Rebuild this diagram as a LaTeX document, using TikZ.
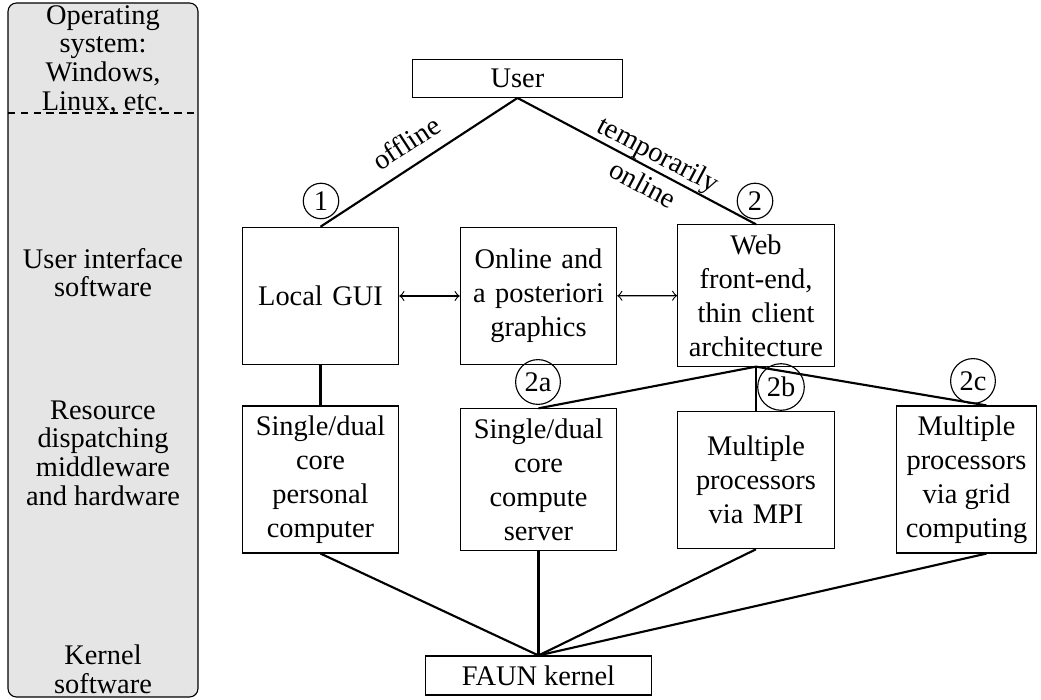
\documentclass[tikz,border=0pt]{standalone}
\usepackage{fontspec}
\setmainfont{Liberation Serif}
\begin{document}
\begin{tikzpicture}[x=0.352pt,y=-0.352pt,
  box/.style={draw, line width=0.4pt, align=center, text width=1.7cm,
    minimum height=1.7cm, inner sep=3.33pt},
  freebox/.style={draw, line width=0.4pt, align=center, inner sep=3.33pt},
  num/.style={draw, circle, line width=0.4pt, inner sep=1.5pt},
  layer/.style={align=center, font=\fontsize{10}{10.1}\selectfont},
  conn/.style={line width=0.75pt},
  thinconn/.style={line width=0.45pt},
  dbl/.style={line width=0.4pt, <->}]
\useasboundingbox (0,0) rectangle (1041,700);

% layer column
\draw[line width=0.4pt, rounded corners=3pt, fill=black!10] (8,3) rectangle (198,697);
\draw[line width=0.5pt, dash pattern=on 2.6pt off 1.9pt] (8,113) -- (198,113);
\node[layer] (los)  at (103,60) {Operating\\system:\\Windows,\\Linux, etc.};
\node[layer] (lui)  at (103,272.5) {User interface\\software};
\node[layer] (lres) at (103,453) {Resource\\dispatching\\middleware\\and hardware};
\node[layer] (lker) at (103,669) {Kernel\\software};

% nodes
\node[freebox, minimum width=2.6cm] (user) at (517.5,78.5) {User};
\node[box] (gui)   at (320.5,296) {Local GUI};
\node[box] (graph) at (538.5,296) {Online and\\a posteriori\\graphics};
\node[box] (web)   at (756,295.5) {Web\\front-end,\\thin client\\architecture};
\node[box] (pc)    at (320.5,479.5) {Single/dual\\core\\personal\\computer};
\node[box] (srv)   at (538.5,479.5) {Single/dual\\core\\compute\\server};
\node[box] (mpi)   at (756,480) {Multiple\\processors\\via MPI};
\node[freebox] (grid) at (966.5,479.5) {Multiple\\processors\\via grid\\computing};
\node[freebox, minimum width=2.8cm] (faun) at (538.5,675.5) {FAUN kernel};

% connectors
\draw[conn] (gui.north) -- node[pos=0.5, sloped, above=1pt] {offline} (user.south);
\draw[conn] (user.south) -- node[pos=0.56, sloped, align=center] {temporarily\\online} (web.north);
\draw[dbl] (gui) -- (graph);
\draw[dbl] (graph) -- (web);
\draw[conn] (gui) -- (pc);
\draw[conn] (web.south) -- (srv.north);
\draw[thinconn] (web.south) -- (mpi.north);
\draw[conn] (web.south) -- ([xshift=7]grid.north);
\draw[conn] (pc.south) -- (faun.north);
\draw[conn] (srv.south) -- (faun.north);
\draw[conn] (mpi.south) -- (faun.north);
\draw[conn] ([xshift=7]grid.south) -- (faun.north);

% branch numbers
\node[num] (n1)  at (321,201) {1};
\node[num] (n2)  at (755,201) {2};
\node[num] (n2a) at (538,382) {2a};
\node[num] (n2b) at (781,387) {2b};
\node[num] (n2c) at (973,381) {2c};
\end{tikzpicture}
\end{document}
